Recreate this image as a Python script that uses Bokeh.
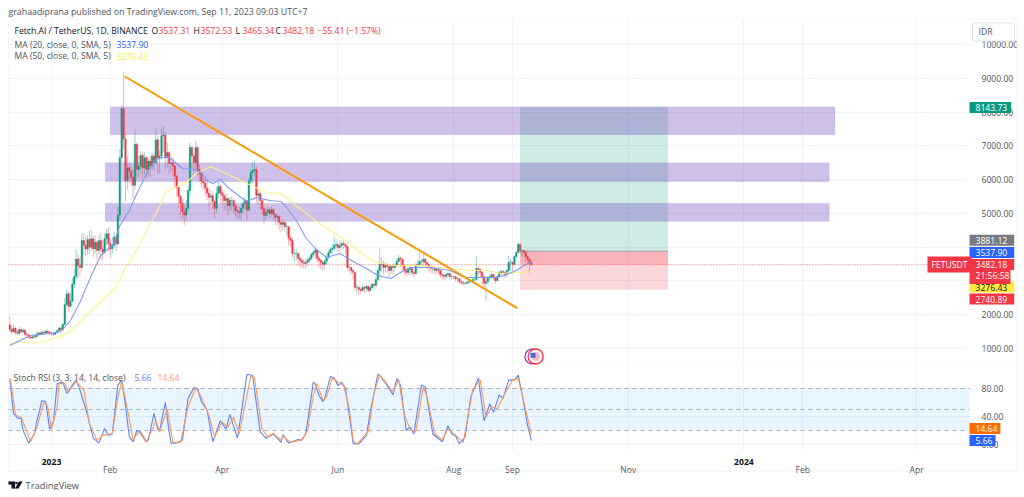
from bokeh.plotting import figure
from bokeh.layouts import column
from bokeh.embed import file_html
from bokeh.resources import INLINE
from bokeh.models import (Range1d, FixedTicker, NumeralTickFormatter, Label, PolyAnnotation)

# ---------- data ----------
first_day = -22   # days since 2023-01-01 of the first candle
closes = [1560,1500,1600,1480,1450,1560,1500,1540, 1420,1400,1340,1310,1350,1340,
 1400,1460,1430,1480,1460,1510,1480,1450,1440, 1420,1470,1530,1610,1560,1720,
 2300,2620,2250,2400,2900,3130,3650,3450,3400,
 4200,4050,3950,4230,4000,4250,3950,4150,3900,4200,3950,3850,4250,4400,4100,3950,4050,4300,4100,
 4950,6650,8100,7200,
 5970,6350,6250,6060,5830,7050,6300,6400,6720,6350,
 6650,6300,6550,6400,6700,6500,7180,6650,6700,7300,
 7320,6650,6800,6480,6500,6400,6100,5770,5500,5300,
 5050,4950,5150,5680,6950,6700,6500,6950,6300,6180,
 5950,5900,5750,5600,5480,5520,5350,5150,5600,5800,
 5600,5530,5380,5440,5230,5380,5380,5230,5080,5050,
 5030,5150,5290,5380,5100,5950,6200,6270,6300,5530,
 5580,5380,5140,4940,5030,5110,5000,5110,4970,4880,
 4910,4730,4670,4730,4610,4610,4260,4200,3810,3810,
 3810,3670,3610,3550,3520,3550,3610,3670,3780,3840,
 3900,3670,3610,3550,3490,3580,3700,3840,3930,3960,
 4050,4080,3990,4050,4110,4080,4020,3400,3400,3310,
 3250,2810,2810,2750,2720,2810,2780,2840,2720,2810,
 2900,2870,3040,3310,3490,3520,3400,3460,3430,3310,
 3430,3400,3460,3580,3670,3640,3460,3310,3250,3340,
 3370,3250,3220,3460,3490,3580,3580,3640,3550,3490,
 3400,3370,3370,3310,3340,3310,3190,3160,3130,3190,
 3220,3130,3130,3130,3070,3070,2980,2960,2930,2930,
 2960,2980,3010,3040,3040,3370,3340,3250,3130,2930,
 2980,3100,3130,3190,3100,3010,3130,3250,3280,3250,
 3190,3310,3550,3550,3490,3720,3840,4080,3900,3900,
 3840,3720,3640,3537.31,3482.18]
highs = [1970,1680,1700,1640,1560,1660,1620,1610, 1560,1470,1420,1400,1420,1420,
 1470,1510,1510,1530,1540,1560,1560,1530,1510, 1490,1510,1560,1640,1680,1780,
 2500,2750,2700,2650,3100,3350,3950,3800,3700,
 4400,4400,4300,4350,4500,4500,4350,4350,4200,4350,4400,4200,4400,4550,4600,4250,4300,4450,4400,
 5200,6900,8200,9200,
 7400,6700,6550,6400,6300,7450,7100,6700,6850,6800,
 6800,6700,6650,6700,6800,6800,7500,7300,6900,7550,
 7600,7400,7100,6850,6700,6650,6450,6150,5800,5550,
 5450,5250,5400,5800,7100,7000,6800,7150,7000,6450,
 6250,6050,6100,6000,5750,5700,5650,5400,5800,5950,
 5850,5700,5620,5600,5500,5480,5500,5450,5300,5200,
 5200,5280,5450,5500,5400,6050,6300,6500,6560,6400,
 5750,5650,5450,5200,5150,5200,5150,5200,5150,5000,
 5000,4950,4800,4800,4780,4720,4600,4350,4280,3950,
 3950,3850,3750,3650,3620,3650,3700,3740,3850,3950,
 4000,3950,3730,3650,3600,3650,3780,3900,4000,4100,
 4300,4250,4130,4200,4180,4200,4100,4050,3500,3400,
 3350,3260,2900,2850,2800,2900,2850,2900,2870,2860,
 2950,2950,3100,3400,3950,3700,3600,3550,3550,3450,
 3500,3480,3530,3650,3780,3720,3660,3460,3350,3400,
 3430,3400,3290,3530,3620,3850,3650,3800,3680,3580,
 3500,3440,3430,3380,3400,3380,3320,3220,3200,3230,
 3280,3230,3180,3170,3150,3120,3070,3000,2980,2980,
 3000,3020,3050,3090,3100,3750,3420,3360,3280,3150,
 3050,3150,3200,3260,3210,3120,3180,3300,3330,3320,
 3280,3350,3750,3650,3580,3760,3900,4150,4150,3950,
 3920,3860,3740,3620,3572.53]
lows = [1480,1430,1450,1400,1400,1430,1440,1440, 1380,1330,1280,1270,1290,1300,
 1330,1380,1390,1410,1420,1420,1420,1410,1390, 1380,1400,1450,1510,1500,1540,
 1700,2250,2100,2200,2370,2780,3050,3050,3150,
 3300,3750,3750,3800,3800,3900,3700,3800,3600,3750,3650,3600,3800,4050,3900,3700,3800,4000,3900,
 4050,4800,6500,6900,
 5350,5700,5900,5800,5450,5700,6050,6050,6200,6050,
 6150,6050,6100,6100,6300,6250,6450,6200,6200,6600,
 6800,6300,6350,6150,6250,6100,5750,5500,5150,4950,
 4850,4640,4800,5050,5500,6300,6200,6300,6100,5950,
 5750,5700,5500,5400,5100,5250,5100,4850,5000,5450,
 5300,5250,5100,5100,4950,5050,5100,5000,4900,4800,
 4850,4800,5000,5100,4800,5050,5850,5900,6100,5300,
 5250,5100,4950,4700,4800,4900,4850,4900,4800,4650,
 4650,4500,4450,4500,4450,4350,4050,4000,3700,3600,
 3600,3450,3400,3380,3350,3380,3450,3520,3600,3700,
 3650,3550,3400,3350,3300,3350,3500,3650,3800,3800,
 3900,3950,3850,3850,3950,3950,3800,3300,3250,3200,
 3050,2700,2620,2600,2600,2680,2650,2700,2650,2680,
 2750,2780,2820,3000,3100,3250,3200,3250,3250,3100,
 3220,3200,3280,3420,3550,3400,3280,3180,3120,3180,
 3180,3150,3100,3200,3350,3430,3450,3480,3400,3350,
 3250,3220,3240,3180,3220,3200,3100,3050,3030,3050,
 3100,3040,3040,3050,2990,2970,2920,2880,2860,2880,
 2880,2920,2960,3000,2980,3010,3170,3100,2900,2780,
 2410,2900,3020,3060,3020,2920,2980,3100,3150,3150,
 3080,3120,3250,3300,3300,3440,3680,3820,3800,3720,
 3700,3560,3480,3200,3465.34]
first_open = 1700

ma20_days = [-22,-11,0,5,10,15,21,26,33,36,41,45,51,55,61,64,69,75,79,82,85,89,93,100,103,108,115,121,124,129,134,139,145,152,158,166,172,179,183,189,200,210,218,226,234,239,245,250,253]
ma20_vals = [1090,1386,1454,1504,1830,2372,3162,3754,4110,4642,5086,5589,6270,6596,6684,6566,6329,6300,6211,5974,5885,6004,5767,5471,5352,5471,5382,5352,5175,4790,4287,3961,3695,3813,3606,3369,3162,3073,3221,3399,3399,3310,3103,3103,3103,3162,3310,3488,3537.90]
ma50_days = [-22,-19,-6,5,10,21,34,39,47,52,56,60,65,71,77,84,92,102,113,121,129,139,155,163,171,181,195,210,221,229,237,247,253]
ma50_vals = [1149,1179,1188,1356,1504,2126,2807,3399,4110,4701,5086,5619,5767,5915,6211,6388,6181,5915,5619,5589,5234,4790,4198,3843,3547,3458,3458,3369,3310,3310,3221,3251,3276.43]

k_days = [-22,-21,-20,-18,-16,-15,-12,-9,-8,-5,-3,-1,1,3,6,8,11,13,15,19,22,25,28,30,32,35,37,39,41,43,45,47,50,51,54,56,57,60,62,63,66,69,72,75,77,79,82,85,89,92,94,98,100,103,106,110,113,117,121,122,125,130,132,134,136,138,139,141,143,144,147,149,151,153,155,158,159,162,166,168,172,173,177,180,182,184,187,189,191,195,197,201,206,209,211,213,215,218,221,225,228,231,233,236,238,241,244,246,248,251,253]
k_vals = [94,70,44,38,37,20,2,15,30,63,61,22,32,87,89,73,85,92,78,42,9,2,23,13,15,85,92,56,11,4,20,18,4,6,44,22,20,60,18,2,2,6,66,81,80,61,49,4,34,22,43,9,44,100,99,18,9,15,3,14,2,7,6,15,51,89,87,70,61,66,97,95,84,89,80,22,1,1,13,46,100,99,84,71,94,85,20,25,15,85,82,15,4,27,15,12,1,11,68,95,34,58,46,71,66,92,92,99,73,27,5.66]
d_days = [-22,-21,-19,-16,-14,-11,-8,-4,-2,0,3,4,7,9,13,17,20,24,27,30,32,35,37,40,43,46,50,55,57,61,64,68,72,76,79,83,86,90,93,96,99,102,105,107,111,114,117,121,122,126,132,135,138,140,143,145,148,151,154,157,159,161,167,170,173,176,180,183,186,189,192,196,198,202,206,209,214,217,219,222,226,229,232,235,238,243,246,249,253]
d_vals = [94,82,42,39,25,4,22,60,54,22,54,87,87,75,90,78,30,6,13,15,15,68,90,51,7,18,3,34,18,51,3,3,54,81,68,42,11,32,25,39,15,56,98,95,22,11,16,6,12,3,7,20,70,87,63,68,95,89,84,51,6,1,18,73,99,90,75,93,42,22,18,82,68,15,7,22,11,3,32,78,92,39,54,51,68,92,94,61,14.64]

purple_left = [31, 28.3, 28.3]
purple_right = [413, 410, 410]
purple_top = [8155, 6498, 5302]
purple_bottom = [7327, 5936, 4760]
pos_left, pos_right = 247, 325
target_price, entry_price, stop_price, last_price = 8143.73, 3881.12, 2740.89, 3482.18
trend_days, trend_prices = [38.5, 245.5], [9060, 2194]

tick_days = [0, 31, 90, 151, 212, 243, 304, 365, 396, 456]
tick_names = ["", "Feb", "Apr", "Jun", "Aug", "Sep", "Nov", "", "Feb", "Apr"]
price_ticks = [1000,2000,3000,4000,5000,6000,7000,8000,9000,10000]
stoch_ticks = [0, 40, 80]

# ---------- styling ----------
FONT = "Open Sans"
TXT = "#131722"
AX = "#50535e"
GRID = "#f0f3fa"
EDGE = "#e0e3eb"
RED = "#f23645"
GREEN = "#089981"
BLUE = "#2962ff"
ORANGE = "#ff6d00"
YEL = "#ffeb3b"

WIDTH = 1017
H1, H2 = 365, 125
DAY_L, DAY_R = -22.7, 483.9          # visible pane span in days
PRICE_TOP, PRICE_BOT = 10740, 498
ST_TOP, ST_BOT = 112, -8.57

x_range = Range1d(-26.885, 509.2)
p = figure(width=WIDTH, height=H1, x_range=x_range, y_range=Range1d(498, 11302),
           output_backend="svg", toolbar_location=None, y_axis_location="right",
           min_border=0)
q = figure(width=WIDTH, height=H2, x_range=x_range, y_range=Range1d(-65.71, 112.86),
           output_backend="svg", toolbar_location=None, y_axis_location="right",
           min_border=0)

for f, ticks, lo, hi in ((p, price_ticks, PRICE_BOT, PRICE_TOP), (q, stoch_ticks, ST_BOT, ST_TOP)):
    f.outline_line_color = None
    f.xgrid.ticker = FixedTicker(ticks=tick_days)
    f.ygrid.ticker = FixedTicker(ticks=ticks)
    f.xgrid.grid_line_color = GRID
    f.ygrid.grid_line_color = GRID
    f.xgrid.cross_bounds = (lo, hi)
    f.ygrid.cross_bounds = (DAY_L, DAY_R)
    ax = f.yaxis[0]
    ax.fixed_location = DAY_R
    ax.ticker = FixedTicker(ticks=ticks)
    ax.formatter = NumeralTickFormatter(format="0.00")
    ax.axis_line_color = None
    ax.major_tick_line_color = None
    ax.minor_tick_line_color = None
    ax.major_label_standoff = 6
    ax.major_label_text_font = FONT
    ax.major_label_text_font_size = "8.6px"
    ax.major_label_text_color = AX

# the tags fully cover these two tick labels in the reference
p.yaxis[0].major_label_overrides = {3000: "", 4000: ""}

p.xaxis.visible = False
xa = q.xaxis[0]
xa.fixed_location = ST_BOT
xa.ticker = FixedTicker(ticks=tick_days)
xa.major_label_overrides = {d: n for d, n in zip(tick_days, tick_names)}
xa.axis_line_color = None
xa.major_tick_line_color = None
xa.minor_tick_line_color = None
xa.major_label_standoff = 7
xa.major_label_text_font = FONT
xa.major_label_text_font_size = "8.6px"
xa.major_label_text_color = AX

def py1(page_y):
    return H1 - page_y
def py2(page_y):
    return H1 + H2 - page_y

def txt(f, x, y, text, color=AX, size="8.6px", style="normal", bg=None, pad=0, border=None):
    kw = dict(x=x, y=y, x_units="screen", y_units="screen", text=text, text_color=color,
              text_font=FONT, text_font_size=size, text_font_style=style,
              text_baseline="middle", text_align="left")
    if bg:
        kw.update(background_fill_color=bg, padding=pad)
    if border:
        kw.update(border_line_color=border, border_radius=3)
    f.add_layout(Label(**kw))

def rect_outline(f, left, right, top, bottom, py):
    f.add_layout(PolyAnnotation(xs=[left, right, right, left], ys=[py(top), py(top), py(bottom), py(bottom)],
                                xs_units="screen", ys_units="screen", fill_alpha=0,
                                line_color=EDGE, line_width=1))

# ---------- price pane ----------
p.quad(left=pos_left, right=pos_right, top=target_price, bottom=entry_price, fill_color=GREEN, fill_alpha=0.2, line_color=None)
p.quad(left=pos_left, right=pos_right, top=entry_price, bottom=last_price, fill_color=RED, fill_alpha=0.38, line_color=None)
p.quad(left=pos_left, right=pos_right, top=last_price, bottom=stop_price, fill_color=RED, fill_alpha=0.2, line_color=None)
p.segment(x0=[pos_left], x1=[pos_right], y0=[entry_price], y1=[entry_price], line_color="#787b86", line_alpha=0.6, line_width=1)
p.quad(left=purple_left, right=purple_right, top=purple_top, bottom=purple_bottom,
       fill_color="#673ab7", fill_alpha=0.32, line_color="#673ab7", line_alpha=0.05)

days = [first_day + i for i in range(len(closes))]
opens = [first_open] + closes[:-1]
for col, sel in ((GREEN, lambda o, c: c >= o), (RED, lambda o, c: c < o)):
    idx = [i for i in range(len(closes)) if sel(opens[i], closes[i])]
    p.segment(x0=[days[i] for i in idx], x1=[days[i] for i in idx],
              y0=[lows[i] for i in idx], y1=[highs[i] for i in idx],
              line_color=col, line_alpha=0.4, line_width=1)
    p.vbar(x=[days[i] for i in idx], width=0.8,
           top=[max(opens[i], closes[i]) for i in idx], bottom=[min(opens[i], closes[i]) for i in idx],
           fill_color=col, line_color=col, line_width=0.4)

p.line(ma50_days, ma50_vals, line_color="#fff08a", line_width=1.1)
p.line(ma20_days, ma20_vals, line_color="#7f9cf5", line_width=1.1)
p.line(trend_days, trend_prices, line_color="#ff9800", line_width=2)
p.segment(x0=[DAY_L], x1=[DAY_R], y0=[last_price], y1=[last_price], line_color=RED, line_dash="1 2", line_width=1, line_alpha=0.8)

# event icon
p.scatter([253.5], [764], size=15, marker="circle", fill_color="white", line_color="#9c27b0", line_width=1.2)
p.scatter([255.2], [764], size=15, marker="circle", fill_color="white", line_color=RED, line_width=1.4)
p.scatter([255.2], [764], size=9, marker="circle", fill_color="#f7b7bd", line_color=None)
p.scatter([253.8], [800], size=5, marker="square", fill_color="#3f6fd8", line_color=None)

# tags on the right axis
txt(p, 972, py1(31.5), "IDR", bg="white", pad=(6, 22, 3, 3), border=EDGE)
txt(p, 969, py1(107), "8143.73", color="white", bg=GREEN, pad=(6, 4, 2, 2))
txt(p, 969, py1(239.7), "3881.12", color="white", bg="#787b86", pad=(6, 7, 2, 2))
txt(p, 969, py1(252), "3537.90", color="white", bg=BLUE, pad=(6, 7, 2, 2))
txt(p, 969, py1(286.5), "3276.43", color=TXT, bg=YEL, pad=(6, 7, 2, 2))
txt(p, 969, py1(298.5), "2740.89", color="white", bg=RED, pad=(6, 7, 2, 2))
txt(p, 969, py1(264), "3482.18", color="white", bg=RED, pad=(6, 7, 2, 2))
txt(p, 969, py1(275.5), "21:56:58", color="white", bg=RED, pad=(6, 1, 2, 2))
txt(p, 927, py1(264), "FETUSDT", color="white", bg=RED, pad=(4, 4, 2, 2))

# header
txt(p, 8, py1(11), "grahaadiprana published on TradingView.com, Sep 11, 2023 09:03 UTC+7", size="8.8px")
txt(p, 14, py1(30), "Fetch.AI / TetherUS, 1D, BINANCE", color=TXT)
for xp, lab, val in ((151, "O", "3537.31"), (193, "H", "3572.53"), (235, "L", "3465.34"), (275, "C", "3482.18")):
    txt(p, xp, py1(30), lab, color=TXT)
    txt(p, xp + 7, py1(30), val, color=RED)
txt(p, 317, py1(30), "−55.41 (−1.57%)", color=RED)
txt(p, 14, py1(44), "MA (20, close, 0, SMA, 5)")
txt(p, 116, py1(44), "3537.90", color=BLUE)
txt(p, 14, py1(55.5), "MA (50, close, 0, SMA, 5)")
txt(p, 116, py1(55.5), "3276.43", color=YEL)

rect_outline(p, 8, 1016, 19, 400, py1)

# ---------- stoch pane ----------
q.quad(left=[DAY_L], right=[DAY_R], top=[80], bottom=[20], fill_color="#2196f3", fill_alpha=0.1, line_color=None)
q.segment(x0=[DAY_L] * 3, x1=[DAY_R] * 3, y0=[80, 50, 20], y1=[80, 50, 20],
          line_color="#787b86", line_alpha=0.55, line_dash="4 4", line_width=1)
q.line(k_days, k_vals, line_color="#5b84f8", line_width=1.1)
q.line(d_days, d_vals, line_color="#ff9a5c", line_width=1.1)

txt(q, 13, py2(377), "Stoch RSI (3, 3, 14, 14, close)")
txt(q, 134, py2(377), "5.66", color="#5b84f8")
txt(q, 157, py2(377), "14.64", color="#ff9a5c")
txt(q, 969, py2(428), "14.64", color="white", bg=ORANGE, pad=(6, 3, 2, 2))
txt(q, 969, py2(440), "5.66", color="white", bg=BLUE, pad=(6, 3, 2, 2))

for xp, name in ((0, "2023"), (365, "2024")):
    q.add_layout(Label(x=xp, y=py2(461.5), x_units="data", y_units="screen", text=name, text_align="center",
                       text_baseline="middle", text_font=FONT, text_font_size="8.6px", text_font_style="bold", text_color=TXT))

rect_outline(q, 8, 1016, 365.5, 471, py2)
for xs, ys in (([8, 14.5, 14.5, 11, 11, 8], [481, 481, 488, 488, 484, 484]),
               ([15, 17, 17, 15], [481.5, 481.5, 483.5, 483.5]),
               ([18.5, 22, 18, 14.5], [481, 481, 488, 488])):
    q.add_layout(PolyAnnotation(xs=xs, ys=[py2(v) for v in ys], xs_units="screen", ys_units="screen",
                                fill_color=TXT, fill_alpha=1, line_color=TXT, line_width=0.5))
txt(q, 25, py2(484.5), "TradingView", size="9.4px")

page = column(p, q, spacing=0)
open("out.html", "w").write(file_html(page, INLINE))
